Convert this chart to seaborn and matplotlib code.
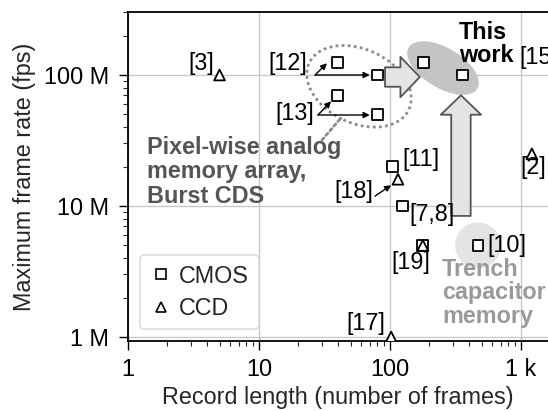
import numpy as np
import pandas as pd
import seaborn as sns
import matplotlib
matplotlib.use("Agg")
import matplotlib.pyplot as plt
from matplotlib.patches import Ellipse, FancyArrowPatch
from matplotlib.lines import Line2D
from matplotlib.transforms import ScaledTranslation
from matplotlib.ticker import FixedLocator, FuncFormatter, LogLocator, NullFormatter

# ---------------- data ----------------
refs = ["[3]", "[12]", "[12]", "[13]", "[13]", "This work", "This work",
        "[11]", "[18]", "[7,8]", "[19]", "[19]", "[10]", "[17]", "[2]"]
record_length = [5, 40, 80, 40, 80, 180, 360,
                 105, 115, 125, 178, 178, 470, 102, 1210]
frame_rate = [100e6, 125e6, 100e6, 70e6, 50e6, 125e6, 100e6,
              20e6, 16e6, 10e6, 5e6, 5e6, 5e6, 1e6, 25e6]
sensor_type = ["CCD", "CMOS", "CMOS", "CMOS", "CMOS", "CMOS", "CMOS",
               "CMOS", "CCD", "CMOS", "CMOS", "CCD", "CMOS", "CCD", "CCD"]

x_ticks = [1, 10, 100, 1000]
x_tick_labels = ["1", "10", "100", "1 k"]
y_ticks = [1e6, 10e6, 100e6]
y_tick_labels = ["1 M", "10 M", "100 M"]

df = pd.DataFrame({"ref": refs, "x": record_length, "y": frame_rate, "type": sensor_type})

# ---------------- style ----------------
sns.set_theme(style="white")
plt.rcParams["font.family"] = ["Liberation Sans", "DejaVu Sans"]
FS = 16.8
plt.rcParams["font.size"] = FS

fig = plt.figure(figsize=(5.48, 4.11), dpi=100)
W, H = 548, 411
ax_l, ax_r, ax_t, ax_b = 128, 548, 12, 341
ax = fig.add_axes([ax_l / W, (H - ax_b) / H, (ax_r - ax_l) / W, (ax_b - ax_t) / H])

ax.set_xscale("log")
ax.set_yscale("log")
dec = 131.0
ax.set_xlim(1, 10 ** ((ax_r - ax_l) / dec))
ax.set_ylim(10 ** (6 - 4 / dec), 10 ** (8 + 63 / dec))

ax.grid(True, which="major", color="#c8c8c8", lw=1.0, zorder=0)
ax.set_axisbelow(True)

# decorations (behind markers)
def anchored(xd, yd):
    return fig.dpi_scale_trans + ScaledTranslation(xd, yd, ax.transData)

# gray ellipse around "This work"
ax.add_patch(Ellipse((0, 0), 0.80, 0.40, angle=-31, transform=anchored(254, 113e6),
                     facecolor="#c4c4c4", edgecolor="none", zorder=1))
# light circle around [10]
ax.add_patch(Ellipse((0, 0), 0.46, 0.46, transform=anchored(470, 5e6),
                     facecolor="#e4e4e4", edgecolor="none", zorder=1))
# dotted ellipse around pixel-wise memory group
ax.add_patch(Ellipse((0, 0), 1.10, 0.74, angle=-25, transform=anchored(58, 82e6),
                     facecolor="none", edgecolor="#8c8c8c", lw=2.0,
                     linestyle=(0, (1, 1.2)), zorder=2))
# dotted connector to label
ax.annotate("", xy=(10 ** ((340 - 128) / dec), 10 ** (8 - (119 - 75) / dec)),
            xytext=(10 ** ((322 - 128) / dec), 10 ** (8 - (140 - 75) / dec)),
            arrowprops=dict(arrowstyle="-", color="#8c8c8c", lw=2.0,
                            linestyle=(0, (1, 1.2)), shrinkA=0, shrinkB=0), zorder=2)

# block arrows
blk = "Simple,tail_width=14,head_width=29,head_length=14"
ax.add_patch(FancyArrowPatch((91.6, 96.5e6), (169, 96.5e6), arrowstyle=blk,
                             mutation_scale=1, shrinkA=0, shrinkB=0,
                             facecolor="#e4e4e4", edgecolor="#555555", lw=1.3, zorder=3))
ax.add_patch(FancyArrowPatch((348, 8.4e6), (348, 70e6), arrowstyle=blk,
                             mutation_scale=1, shrinkA=0, shrinkB=0,
                             facecolor="#e4e4e4", edgecolor="#555555", lw=1.3, zorder=3))

# small pointer arrows
small = dict(arrowstyle="-|>", color="black", lw=1.0, mutation_scale=9, shrinkA=0, shrinkB=0)
ax.annotate("", xy=(70, 100e6), xytext=(26.8, 100e6), arrowprops=small)
ax.annotate("", xy=(33, 123e6), xytext=(26.8, 100e6), arrowprops=small)
ax.annotate("", xy=(70, 49.5e6), xytext=(28.2, 49.5e6), arrowprops=small)
ax.annotate("", xy=(35.5, 63e6), xytext=(28.2, 49.5e6), arrowprops=small)
ax.annotate("", xy=(102, 14.4e6), xytext=(76.8, 11.9e6), arrowprops=small)

# ---------------- data markers ----------------
sns.scatterplot(data=df, x="x", y="y", style="type", markers={"CMOS": "s", "CCD": "^"},
                s=60, color="white", edgecolor="black", linewidth=1.3,
                legend=False, ax=ax, zorder=5)

# ---------------- labels ----------------
k = 0.72  # px -> pt
labels = [
    ("[3]", 5, 100e6, -5, 12, "right"),
    ("[12]", 26.8, 100e6, -8, 12, "right"),
    ("[13]", 28.2, 49.5e6, -4, 2, "right"),
    ("[11]", 105, 20e6, 10, 7, "left"),
    ("[18]", 115, 16e6, -25, -12, "right"),
    ("[7,8]", 125, 10e6, 7, -8, "left"),
    ("[19]", 178, 5e6, -12, -17, "center"),
    ("[10]", 470, 5e6, 9, 0, "left"),
    ("[17]", 102, 1e6, -25, 14, "center"),
    ("[2]", 1210, 25e6, 1, -14, "center"),
    ("[15]", 360, 100e6, 56, 18, "left"),
]
for txt, xv, yv, dx, dy, ha in labels:
    ax.annotate(txt, xy=(xv, yv), xytext=(dx * k, dy * k), textcoords="offset points",
                ha=ha, va="center", fontsize=FS, color="black", zorder=6,
                annotation_clip=False)

ax.annotate("This\nwork", xy=(360, 100e6), xytext=(-4 * k, 31 * k), textcoords="offset points",
            ha="left", va="center", fontsize=FS, fontweight="bold", color="black",
            linespacing=1.0, zorder=6)

ax.text(1.4, 18.2e6, "Pixel-wise analog\nmemory array,\nBurst CDS", ha="left", va="center",
        fontsize=FS, fontweight="bold", color="#555555", linespacing=1.08, zorder=6)
ax.text(249, 2.17e6, "Trench\ncapacitor\nmemory", ha="left", va="center",
        fontsize=FS, fontweight="bold", color="#9a9a9a", linespacing=1.03, zorder=6)

# ---------------- axes ----------------
ax.xaxis.set_major_locator(FixedLocator(x_ticks))
ax.xaxis.set_major_formatter(FuncFormatter(lambda v, p: x_tick_labels[x_ticks.index(v)] if v in x_ticks else ""))
ax.yaxis.set_major_locator(FixedLocator(y_ticks))
ax.yaxis.set_major_formatter(FuncFormatter(lambda v, p: y_tick_labels[y_ticks.index(v)] if v in y_ticks else ""))
ax.xaxis.set_minor_locator(LogLocator(base=10, subs=np.arange(2, 10)))
ax.yaxis.set_minor_locator(LogLocator(base=10, subs=np.arange(2, 10)))
ax.xaxis.set_minor_formatter(NullFormatter())
ax.yaxis.set_minor_formatter(NullFormatter())
ax.tick_params(axis="both", which="major", direction="out", length=6.5, width=1.0,
               labelsize=FS, colors="black", bottom=True, left=True)
ax.tick_params(axis="both", which="minor", direction="out", length=3.5, width=0.8,
               bottom=True, left=True)
ax.tick_params(axis="y", which="major", pad=7)
ax.tick_params(axis="x", which="major", pad=6)

for side in ["left", "bottom", "top"]:
    ax.spines[side].set_visible(True)
    ax.spines[side].set_color("black")
    ax.spines[side].set_linewidth(1.3)
ax.spines["right"].set_visible(False)

ax.set_xlabel("Record length (number of frames)", fontsize=FS, labelpad=3)
ax.set_ylabel("Maximum frame rate (fps)", fontsize=FS, labelpad=6)

# legend
handles = [Line2D([], [], marker="s", ls="none", markersize=7.5, markerfacecolor="white",
                  markeredgecolor="black", markeredgewidth=1.2, label="CMOS"),
           Line2D([], [], marker="^", ls="none", markersize=7.5, markerfacecolor="white",
                  markeredgecolor="black", markeredgewidth=1.2, label="CCD")]
leg = ax.legend(handles=handles, loc="lower left", fontsize=FS, frameon=True, fancybox=True,
                handlelength=1.0, handletextpad=0.3, borderpad=0.4, labelspacing=0.4,
                borderaxespad=0.5)
leg.get_frame().set_edgecolor("#d8d8d8")
leg.get_frame().set_linewidth(1.3)
leg.set_zorder(7)

fig.savefig("out.png", dpi=100)
